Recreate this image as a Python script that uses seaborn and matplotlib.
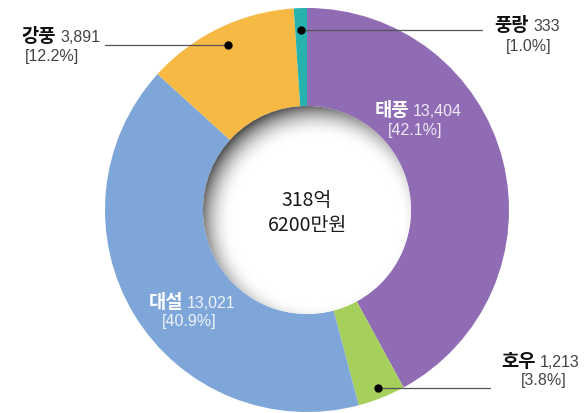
import numpy as np
import matplotlib
matplotlib.use("Agg")
import matplotlib.pyplot as plt
import seaborn as sns
from matplotlib.patches import Circle

categories = ["태풍", "호우", "대설", "강풍", "풍랑"]
values = [13404, 1213, 13021, 3891, 333]
colors = ["#8f6cb4", "#a6cf5b", "#7fa6d9", "#f5b944", "#27b2ae"]
center_lines = ["318억", "6200만원"]

sns.set_theme(style="white")
plt.rcParams["font.family"] = ["Noto Sans CJK KR", "DejaVu Sans"]

W, H = 587, 414
fig = plt.figure(figsize=(W / 100, H / 100), dpi=100)
ax = fig.add_axes([0, 0, 1, 1])

def Y(y):
    return H - y

cx, cy = 307, Y(211)
R, r_in = 202, 104

wedges, _ = ax.pie(values, colors=colors, startangle=90, counterclock=False,
                   center=(cx, cy), radius=R, frame=True,
                   wedgeprops=dict(width=R - r_in, linewidth=0))

# shaded hole
gx = np.linspace(cx - r_in, cx + r_in, 400)
gy = np.linspace(cy - r_in, cy + r_in, 400)
XX, YY = np.meshgrid(gx, gy)
ox, oy = cx + 9, cy - 11
d = np.hypot(XX - ox, YY - oy)
t = np.clip((d - (r_in - 20)) / 36.0, 0, 1)
val = 1 - 0.78 * t ** 2.0
img = np.dstack([val, val, val])
im = ax.imshow(img, extent=(cx - r_in, cx + r_in, cy - r_in, cy + r_in),
               origin="lower", interpolation="bilinear", zorder=3)
clip = Circle((cx, cy), r_in, transform=ax.transData)
im.set_clip_path(clip)

ax.text(cx, Y(200), center_lines[0], ha="center", va="center", fontsize=14,
        fontweight="medium", color="#1a1a1a", zorder=5)
ax.text(cx, Y(226), center_lines[1], ha="center", va="center", fontsize=14,
        fontweight="medium", color="#1a1a1a", zorder=5)

total = sum(values)
pcts = [f"[{v / total * 100:.1f}%]" for v in values]
nums = [f"{v:,}" for v in values]

# label layout: (split x, name y, pct x, pct y, text colour, number colour)
layout = {
    "태풍": (409, 111, 415, 130, "white", "#efe9f6"),
    "호우": (536, 362, 544, 381, "#111111", "#444444"),
    "대설": (183, 302, 189, 322, "white", "#eef3fb"),
    "강풍": (56, 37, 52, 57, "#111111", "#444444"),
    "풍랑": (529, 25, 529, 46, "#111111", "#444444"),
}
for cat, num, pct in zip(categories, nums, pcts):
    sx, ny, px, py, c1, c2 = layout[cat]
    ax.text(sx, Y(ny), cat, ha="right", va="center", fontsize=13.5,
            fontweight="bold", color=c1, zorder=6)
    ax.text(sx + 4, Y(ny) - 1, num, ha="left", va="center", fontsize=11.5,
            color=c2, zorder=6, family=["Liberation Sans", "DejaVu Sans"])
    ax.text(px, Y(py), pct, ha="center", va="center", fontsize=11.5,
            color=c2, zorder=6, family=["Liberation Sans", "DejaVu Sans"])

# leader lines with dots for small/outer labels
leaders = {"강풍": (0.905, 105), "풍랑": (0.89, 482), "호우": (0.95, 490)}
cum = np.cumsum([0] + values)
for i, cat in enumerate(categories):
    if cat not in leaders:
        continue
    frac, xend = leaders[cat]
    mid = (cum[i] + cum[i + 1]) / 2 / total
    ang = np.deg2rad(90 - mid * 360)
    dx = cx + frac * R * np.cos(ang)
    dy = cy + frac * R * np.sin(ang)
    ax.plot([dx, xend], [dy, dy], color="#555555", lw=0.9, zorder=6)
    ax.plot(dx, dy, "o", color="black", ms=5, zorder=7)

ax.set_xlim(0, W)
ax.set_ylim(0, H)
ax.set_aspect("equal")
ax.axis("off")
fig.savefig("out.png", dpi=100, facecolor="white")
